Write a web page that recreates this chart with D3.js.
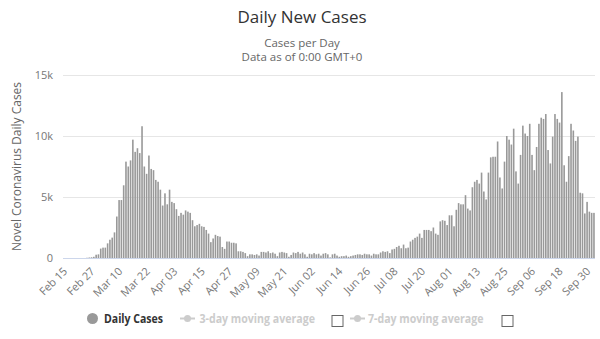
<!DOCTYPE html>
<html><head><meta charset="utf-8">
<script src="https://cdn.jsdelivr.net/npm/d3@7/dist/d3.min.js"></script>
<style>
html,body{margin:0;padding:0;background:#fff;}
svg{display:block;font-family:"Open Sans","DejaVu Sans",sans-serif;}
</style></head>
<body><svg id="chart" width="600" height="339"></svg>
<script>
// Daily new cases (thousands), one per day starting Feb 15
const dailyCasesK = [
 0,0,0,0,0,0,0,0,0,0,
 0.02,0.04,0.06,0.1,0.27,0.3,0.77,0.85,0.85,1.2,
 1.5,1.67,2.1,3.4,4.75,4.75,5.96,7.9,7.5,8.0,
 9.7,8.7,9.0,8.6,10.8,7.5,6.9,8.4,7.3,7.2,
 6.4,6.25,5.6,4.3,5.3,4.4,5.6,4.6,4.5,4.0,
 3.45,3.7,3.55,3.9,3.8,3.7,3.1,2.6,2.7,2.8,
 2.6,2.55,2.3,2.0,1.3,1.6,1.9,1.8,1.75,0.9,
 0.75,1.35,1.35,1.25,1.25,1.2,0.55,0.55,0.5,0.4,
 0.15,0.3,0.3,0.25,0.3,0.2,0.5,0.5,0.45,0.55,
 0.4,0.45,0.35,0.15,0.45,0.5,0.45,0.4,0.1,0.25,
 0.45,0.4,0.5,0.35,0.45,0.3,0.1,0.35,0.3,0.4,
 0.3,0.35,0.2,0.35,0.4,0.3,0.05,0.3,0.35,0.2,
 0.1,0.15,0.15,0.2,0.1,0.15,0.2,0.25,0.3,0.3,
 0.25,0.35,0.3,0.3,0.2,0.35,0.3,0.3,0.45,0.55,
 0.5,0.55,0.4,0.7,0.75,0.9,1.0,0.8,1.1,0.8,
 0.85,1.35,1.5,1.65,1.75,2.0,1.65,2.3,2.3,2.3,
 2.2,2.5,2.0,1.9,3.0,3.1,3.05,2.7,3.5,3.5,
 2.6,3.95,4.5,4.4,4.4,5.15,4.05,3.9,5.8,6.25,
 6.4,6.1,7.0,5.45,4.8,7.0,8.25,8.3,8.3,9.55,
 6.6,5.7,7.9,10.0,9.7,9.3,10.6,7.1,6.1,8.45,
 10.85,10.2,10.0,11.0,8.45,7.2,9.1,11.0,11.5,11.4,
 11.8,8.85,7.75,9.95,11.8,11.4,11.1,13.6,7.6,6.25,
 8.35,11.0,10.45,9.6,9.95,5.35,5.3,3.65,4.6,3.8,
 3.7,3.7
];
const firstDay = new Date(2020, 1, 15);
const fmt = d3.timeFormat("%b %d");
const categories = dailyCasesK.map((v, i) => fmt(d3.timeDay.offset(firstDay, i)));
const tickLabels = ["Feb 15","Feb 27","Mar 10","Mar 22","Apr 03","Apr 15","Apr 27","May 09","May 21","Jun 02","Jun 14","Jun 26","Jul 08","Jul 20","Aug 01","Aug 13","Aug 25","Sep 06","Sep 18","Sep 30"];
const yTicks = [0, 5000, 10000, 15000];
const titleText = "Daily New Cases";
const subtitleLines = ["Cases per Day", "Data as of 0:00 GMT+0"];
const yAxisTitle = "Novel Coronavirus Daily Cases";
const legendItems = ["Daily Cases", "3-day moving average", "7-day moving average"];

const values = dailyCasesK.map(v => v * 1000);
const svg = d3.select("#chart");
const L = 63, R = 595, T = 75, B = 258;

const x = d3.scaleBand().domain(categories).range([L, R]).paddingInner(0.3).paddingOuter(0.1);
const y = d3.scaleLinear().domain([0, 15000]).range([B, T]);

// title
svg.append("text").attr("x", 302).attr("y", 23).attr("text-anchor", "middle")
  .attr("font-size", 17).attr("fill", "#333").text(titleText);
subtitleLines.forEach((s, i) => svg.append("text").attr("x", 302).attr("y", 47 + i * 14)
  .attr("text-anchor", "middle").attr("font-size", 11.5).attr("fill", "#666").text(s));

// grid + y axis
const yAxis = d3.axisLeft(y).tickValues(yTicks).tickSize(-(R - L))
  .tickFormat(d => d === 0 ? "0" : (d / 1000) + "k");
const gy = svg.append("g").attr("transform", `translate(${L},0)`).call(yAxis);
gy.select(".domain").remove();
gy.selectAll(".tick line").attr("stroke", "#e6e6e6");
gy.selectAll(".tick text").attr("x", -10).attr("fill", "#777").attr("font-size", 11)
  .attr("font-family", "Open Sans, DejaVu Sans, sans-serif");

svg.append("text").attr("transform", `translate(21,${(T + B) / 2}) rotate(-90)`)
  .attr("text-anchor", "middle").attr("font-size", 12).attr("fill", "#666").text(yAxisTitle);

// bars
svg.append("g").selectAll("rect").data(values).join("rect")
  .attr("x", (d, i) => x(categories[i]))
  .attr("width", x.bandwidth())
  .attr("y", d => y(d))
  .attr("height", d => B - y(d))
  .attr("fill", "#999999");

// x axis
svg.append("line").attr("x1", L).attr("x2", R).attr("y1", B + 0.5).attr("y2", B + 0.5).attr("stroke", "#ccd6eb");
const xAxis = d3.axisBottom(x).tickValues(tickLabels).tickSize(0);
const gx = svg.append("g").attr("transform", `translate(0,${B})`).call(xAxis);
gx.select(".domain").remove();
gx.selectAll(".tick text")
  .attr("text-anchor", "end").attr("fill", "#777").attr("font-size", 11)
  .attr("font-family", "Open Sans, DejaVu Sans, sans-serif")
  .attr("dy", null).attr("y", 0)
  .attr("transform", "translate(4,14) rotate(-45)");

// legend
const lg = svg.append("g");
lg.append("circle").attr("cx", 92.5).attr("cy", 318.5).attr("r", 5.5).attr("fill", "#999999");
lg.append("text").attr("x", 104).attr("y", 323).attr("font-size", 12).attr("font-weight", "bold")
  .attr("textLength", 59).attr("lengthAdjust", "spacingAndGlyphs")
  .attr("fill", "#333").text(legendItems[0]);
const greyed = "#cccccc";
[[180, 199.5, 331.5], [350, 368, 501.5]].forEach((p, i) => {
  lg.append("line").attr("x1", p[0]).attr("x2", p[0] + 15).attr("y1", 318.5).attr("y2", 318.5)
    .attr("stroke", greyed).attr("stroke-width", 2);
  lg.append("circle").attr("cx", p[0] + 7.5).attr("cy", 318.5).attr("r", 3.5).attr("fill", greyed);
  lg.append("text").attr("x", p[1]).attr("y", 323).attr("font-size", 12).attr("font-weight", "bold")
    .attr("textLength", 115.5).attr("lengthAdjust", "spacingAndGlyphs")
    .attr("fill", greyed).text(legendItems[i + 1]);
  lg.append("rect").attr("x", p[2] + 0.5).attr("y", 315.5).attr("width", 11).attr("height", 11)
    .attr("fill", "#fff").attr("stroke", "#666").attr("stroke-width", 1);
});
</script></body></html>
